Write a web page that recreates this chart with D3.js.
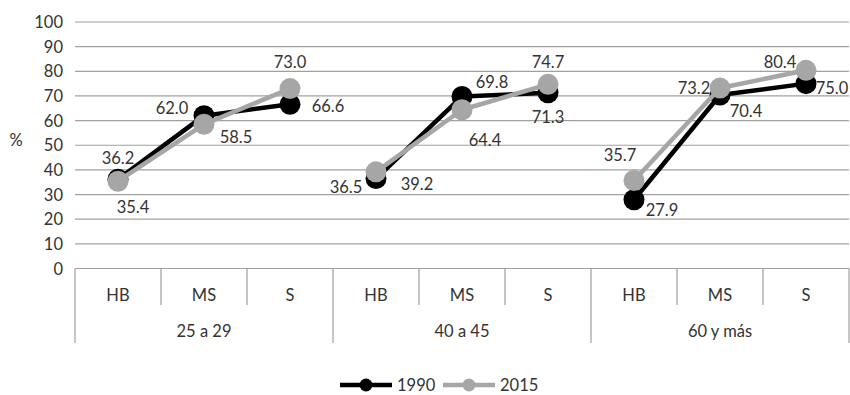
<!DOCTYPE html>
<html>
<head>
<meta charset="utf-8">
<script src="https://cdn.jsdelivr.net/npm/d3@7"></script>
<style>
  body { margin: 0; background: #fff; }
  svg text { font-family: "Lato", "Open Sans", sans-serif; font-weight: 400; fill: #333; }
</style>
</head>
<body>
<svg id="chart" width="850" height="395"></svg>
<script>
// Age groups, education levels and the two survey years
const groups = ["25 a 29", "40 a 45", "60 y más"];
const levels = ["HB", "MS", "S"];
const years = ["1990", "2015"];
const values1990 = [36.2, 62.0, 66.6, 36.5, 69.8, 71.3, 27.9, 70.4, 75.0];
const values2015 = [35.4, 58.5, 73.0, 39.2, 64.4, 74.7, 35.7, 73.2, 80.4];
const yTicks = [0, 10, 20, 30, 40, 50, 60, 70, 80, 90, 100];

// Label offsets (px) relative to each marker
const offsets1990 = [[0, -21], [-32, -8], [38, 2], [-30, 8], [30, -14], [0, 24], [28, 10], [26, 16], [26, 4]];
const offsets2015 = [[15, 26], [32, 13], [0, -27], [41, 12], [23, 30], [0, -22], [-14, -25], [-26, 0], [-26, -8]];

const colors = { "1990": "#000000", "2015": "#a6a6a6" };
const fontSize = 16.5;

const svg = d3.select("#chart");
const plotLeft = 75, plotRight = 849, plotTop = 22, plotBottom = 268.5;

const cats = [];
groups.forEach(g => levels.forEach(l => cats.push(g + "|" + l)));

const x = d3.scaleBand().domain(cats).range([plotLeft, plotRight]);
const y = d3.scaleLinear().domain([0, 100]).range([plotBottom, plotTop]);

// Horizontal gridlines
svg.append("g").selectAll("line").data(yTicks).join("line")
  .attr("x1", plotLeft).attr("x2", plotRight)
  .attr("y1", d => y(d)).attr("y2", d => y(d))
  .attr("stroke", "#a0a0a0").attr("stroke-width", 1.2);

// Y axis tick labels
svg.append("g").selectAll("text").data(yTicks).join("text")
  .attr("x", plotLeft - 12).attr("y", d => y(d))
  .attr("text-anchor", "end").attr("dominant-baseline", "central")
  .attr("font-size", fontSize).text(d => d);

svg.append("text").attr("x", 16).attr("y", 140)
  .attr("text-anchor", "middle").attr("dominant-baseline", "central")
  .attr("font-size", fontSize).text("%");

// Category separators below the axis
const sepColor = "#a0a0a0";
svg.append("line").attr("x1", plotLeft).attr("x2", plotLeft).attr("y1", plotBottom).attr("y2", 343)
  .attr("stroke", sepColor).attr("stroke-width", 1.2);
cats.forEach((c, i) => {
  const xe = x(c) + x.bandwidth();
  const isGroupEnd = (i + 1) % levels.length === 0;
  svg.append("line").attr("x1", xe).attr("x2", xe)
    .attr("y1", plotBottom).attr("y2", isGroupEnd ? 343 : 305)
    .attr("stroke", sepColor).attr("stroke-width", 1.2);
});

// Level labels
svg.append("g").selectAll("text").data(cats).join("text")
  .attr("x", d => x(d) + x.bandwidth() / 2).attr("y", 295)
  .attr("text-anchor", "middle").attr("dominant-baseline", "central")
  .attr("font-size", fontSize).text(d => d.split("|")[1]);

// Group labels
svg.append("g").selectAll("text").data(groups).join("text")
  .attr("x", g => (x(g + "|" + levels[0]) + x(g + "|" + levels[levels.length - 1]) + x.bandwidth()) / 2)
  .attr("y", 331)
  .attr("text-anchor", "middle").attr("dominant-baseline", "central")
  .attr("font-size", fontSize).text(g => g);

// Series
const series = [
  { year: "1990", values: values1990, offsets: offsets1990 },
  { year: "2015", values: values2015, offsets: offsets2015 }
];

const line = d3.line().x(d => x(d.cat) + x.bandwidth() / 2).y(d => y(d.v));

series.forEach(s => {
  const pts = cats.map((c, i) => ({ cat: c, v: s.values[i], off: s.offsets[i] }));
  const g = svg.append("g");
  groups.forEach((grp, gi) => {
    const seg = pts.slice(gi * levels.length, (gi + 1) * levels.length);
    g.append("path").datum(seg).attr("d", line)
      .attr("fill", "none").attr("stroke", colors[s.year]).attr("stroke-width", 4.5)
      .attr("stroke-linejoin", "round");
  });
  g.selectAll("circle").data(pts).join("circle")
    .attr("cx", d => x(d.cat) + x.bandwidth() / 2).attr("cy", d => y(d.v))
    .attr("r", 10.5).attr("fill", colors[s.year]);
});

series.forEach(s => {
  const pts = cats.map((c, i) => ({ cat: c, v: s.values[i], off: s.offsets[i] }));
  svg.append("g").selectAll("text").data(pts).join("text")
    .attr("x", d => x(d.cat) + x.bandwidth() / 2 + d.off[0])
    .attr("y", d => y(d.v) + d.off[1])
    .attr("text-anchor", "middle").attr("dominant-baseline", "central")
    .attr("font-size", fontSize).text(d => d.v.toFixed(1));
});

// Legend
const legend = svg.append("g");
const legendItems = [
  { year: "1990", x0: 340 },
  { year: "2015", x0: 443 }
];
legendItems.forEach(it => {
  legend.append("line").attr("x1", it.x0).attr("x2", it.x0 + 52)
    .attr("y1", 385).attr("y2", 385)
    .attr("stroke", colors[it.year]).attr("stroke-width", 4.5);
  legend.append("circle").attr("cx", it.x0 + 26).attr("cy", 385).attr("r", 6.5)
    .attr("fill", colors[it.year]);
  legend.append("text").attr("x", it.x0 + 57).attr("y", 385)
    .attr("dominant-baseline", "central").attr("font-size", fontSize).text(it.year);
});
</script>
</body>
</html>
